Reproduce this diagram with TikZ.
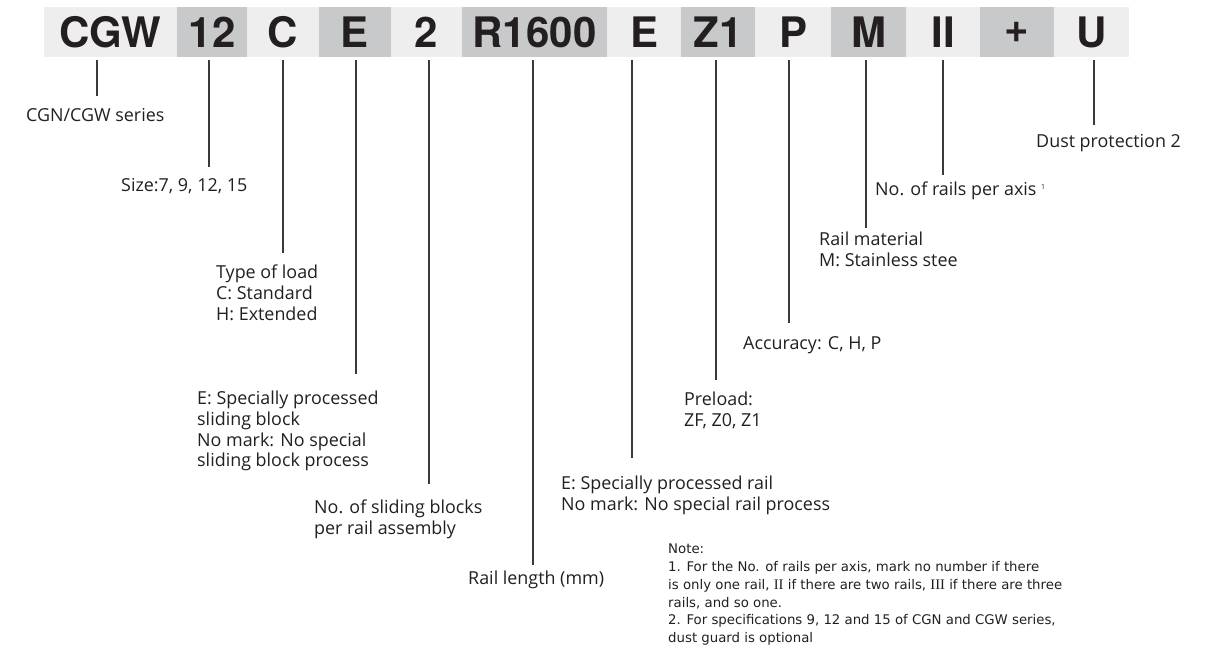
\documentclass[tikz,border=0pt]{standalone}
\usepackage{fontspec}
\setmainfont{Open Sans}
\newfontfamily\barfont{TeX Gyre Heros}
\newfontfamily\notefont{DejaVu Sans}
\newfontfamily\romanfont[Scale=1.1]{Liberation Serif}
\usepackage{xcolor}
\definecolor{barlight}{HTML}{EEEEEE}
\definecolor{bardark}{HTML}{C8C9CB}
\definecolor{leadgray}{HTML}{3A3A3A}
\definecolor{inkblack}{HTML}{231F20}

\begin{document}
\begin{tikzpicture}[x=1pt,y=-1pt,
    box/.style={minimum height=50pt, inner sep=0pt, text=inkblack,
        font=\barfont\bfseries\fontsize{42}{44}\selectfont},
    light/.style={box, fill=barlight},
    dark/.style={box, fill=bardark},
    lead/.style={draw=leadgray, line width=1.2pt},
    lab/.style={anchor=north west, align=left, inner sep=0pt, text=inkblack,
        font=\fontsize{17.9}{20.7}\selectfont},
    notelab/.style={anchor=north west, align=left, inner sep=0pt, text=inkblack,
        font=\notefont\fontsize{13.3}{17.7}\selectfont}]
    \useasboundingbox (0,0) rectangle (1209,650);

    \node[light, minimum width=133pt] (bSeries) at (110.5,32) {CGW};
    \node[dark,  minimum width=70pt]  (bSize)   at (212,32)   {12};
    \node[light, minimum width=72pt]  (bLoad)   at (283,32)   {C};
    \node[dark,  minimum width=72pt]  (bBlock)  at (355,32)   {E};
    \node[light, minimum width=71pt]  (bNum)    at (426.5,32) {2};
    \node[dark,  minimum width=145pt] (bLength) at (534.5,32) {R1600};
    \node[light, minimum width=74pt]  (bRail)   at (644,32)   {E};
    \node[dark,  minimum width=74pt]  (bPre)    at (718,32)   {Z1};
    \node[light, minimum width=76pt]  (bAcc)    at (793,32)   {P};
    \node[dark,  minimum width=75pt]  (bMat)    at (868.5,32) {M};
    \node[light, minimum width=74pt]  (bAxis)   at (943,32)   {II};
    \node[dark,  minimum width=74pt]  (bPlus)   at (1017,32)  {+};
    \node[light, minimum width=75pt]  (bDust)   at (1091.5,32) {U};

    \node[lab] (lSeries) at (26,108)  {CGN/CGW series};
    \node[lab] (lSize)   at (121,178) {Size:7, 9, 12, 15};
    \node[lab] (lLoad)   at (216,265) {Type of load\\C: Standard\\H: Extended};
    \node[lab] (lBlock)  at (197,391) {E: Specially processed\\sliding block\\No mark: No special\\sliding block process};
    \node[lab] (lNum)    at (314,500) {No. of sliding blocks\\per rail assembly};
    \node[lab] (lLength) at (468,571) {Rail length (mm)};
    \node[lab] (lRail)   at (561,476) {E: Specially processed rail\\No mark: No special rail process};
    \node[lab] (lPre)    at (684,392) {Preload:\\ZF, Z0, Z1};
    \node[lab] (lAcc)    at (743,336) {Accuracy: C, H, P};
    \node[lab] (lMat)    at (819,232) {Rail material\\M: Stainless stee};
    \node[lab] (lAxis)   at (875,182) {No. of rails per axis \textsuperscript{\fontsize{7}{7}\selectfont 1}};
    \node[lab] (lDust)   at (1036,134) {Dust protection 2};

    \node[notelab] (lNote) at (668,544) {Note:\\
        1. For the No. of rails per axis, mark no number if there\\
        is only one rail, {\romanfont II} if there are two rails, {\romanfont III} if there are three\\
        rails, and so one.\\
        2. For specifications 9, 12 and 15 of CGN and CGW series,\\
        dust guard is optional};

    \coordinate (eSeries) at (97,96);
    \coordinate (eSize)   at (209,167);
    \coordinate (eLoad)   at (283,253);
    \coordinate (eBlock)  at (356,374);
    \coordinate (eNum)    at (429,484);
    \coordinate (eLength) at (533,565);
    \coordinate (eRail)   at (632,458);
    \coordinate (ePre)    at (716,380);
    \coordinate (eAcc)    at (789,323);
    \coordinate (eMat)    at (866,228);
    \coordinate (eAxis)   at (943,175);
    \coordinate (eDust)   at (1094,125);

    \foreach \k in {Series,Size,Load,Block,Num,Length,Rail,Pre,Acc,Mat,Axis,Dust}
        \draw[lead] ([yshift=-3pt]b\k.south -| e\k) -- (e\k);
\end{tikzpicture}
\end{document}
